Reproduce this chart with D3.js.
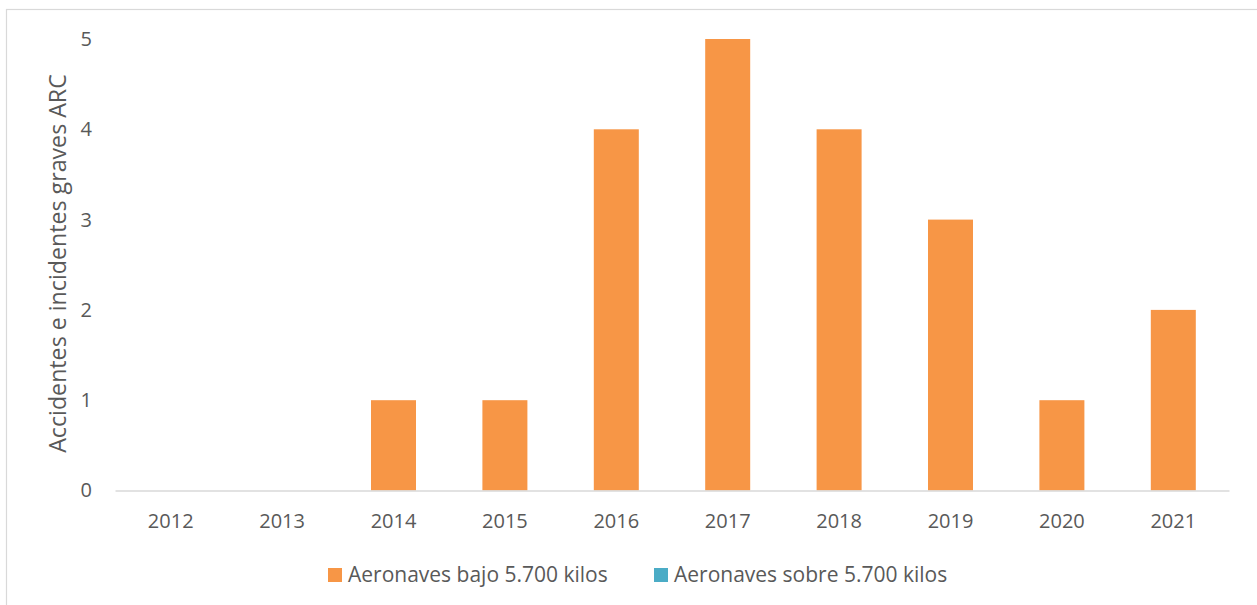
<!DOCTYPE html>
<html>
<head>
<meta charset="utf-8">
<script src="https://cdn.jsdelivr.net/npm/d3@7"></script>
<style>
  html, body { margin: 0; padding: 0; background: #fff; }
  svg { display: block; font-family: "Open Sans", "Noto Sans", sans-serif; }
</style>
</head>
<body>
<svg id="chart" width="1257" height="605"></svg>
<script>
// Accidentes e incidentes graves ARC por año
const years = ["2012", "2013", "2014", "2015", "2016", "2017", "2018", "2019", "2020", "2021"];
const bajo5700 = [0, 0, 1, 1, 4, 5, 4, 3, 1, 2];
const sobre5700 = [0, 0, 0, 0, 0, 0, 0, 0, 0, 0];
const seriesNames = ["Aeronaves bajo 5.700 kilos", "Aeronaves sobre 5.700 kilos"];
const seriesColors = ["#F79646", "#4BACC6"];
const yTicks = [0, 1, 2, 3, 4, 5];
const yTitle = "Accidentes e incidentes graves ARC";

const svg = d3.select("#chart");
const W = 1257, H = 605;
const margin = { left: 115, right: 28, top: 39, bottom: 115 };
const textColor = "#595959";
const fontFam = "Open Sans, Noto Sans, sans-serif";

// chart frame
svg.append("rect")
  .attr("x", 6.5).attr("y", 9.5)
  .attr("width", W + 10).attr("height", H + 10)
  .attr("fill", "#fff").attr("stroke", "#d9d9d9").attr("stroke-width", 1.2);

const x = d3.scaleBand().domain(years)
  .range([margin.left, W - margin.right]).paddingInner(0).paddingOuter(0);
const y = d3.scaleLinear().domain([0, 5]).range([H - margin.bottom + 0.5, margin.top]);

// bars (the second series is zero in every year, so only the first is visible)
const barW = 45;
svg.append("g").selectAll("rect")
  .data(years.map((yr, i) => ({ yr, v: bajo5700[i] })))
  .join("rect")
  .attr("x", d => x(d.yr) + x.bandwidth() / 2 - barW / 2)
  .attr("width", barW)
  .attr("y", d => y(d.v))
  .attr("height", d => y(0) - y(d.v))
  .attr("fill", seriesColors[0]);

// x axis
const xAxis = svg.append("g")
  .attr("transform", `translate(0,${y(0)})`)
  .call(d3.axisBottom(x).tickSize(0).tickPadding(23));
xAxis.select(".domain").attr("stroke", "#d9d9d9").attr("stroke-width", 1.5);
xAxis.selectAll("text").attr("fill", textColor).attr("font-size", 20)
  .attr("font-family", fontFam);

// y axis (labels only)
const yAxis = svg.append("g")
  .attr("transform", `translate(${margin.left},0)`)
  .call(d3.axisLeft(y).tickValues(yTicks).tickSize(0).tickPadding(23).tickFormat(d3.format("d")));
yAxis.select(".domain").remove();
yAxis.selectAll("text").attr("fill", textColor).attr("font-size", 20)
  .attr("font-family", fontFam);

// y axis title
svg.append("text")
  .attr("transform", `translate(66,263.5) rotate(-90)`)
  .attr("text-anchor", "middle")
  .attr("fill", textColor)
  .attr("font-size", 23.2)
  .text(yTitle);

// legend
const legendItems = [
  { name: seriesNames[0], color: seriesColors[0], x: 328 },
  { name: seriesNames[1], color: seriesColors[1], x: 654 }
];
const lg = svg.append("g").selectAll("g").data(legendItems).join("g")
  .attr("transform", d => `translate(${d.x},568)`);
lg.append("rect").attr("width", 14).attr("height", 14).attr("fill", d => d.color);
lg.append("text").attr("x", 20).attr("y", 14)
  .attr("fill", textColor).attr("font-size", 21).text(d => d.name);
</script>
</body>
</html>
